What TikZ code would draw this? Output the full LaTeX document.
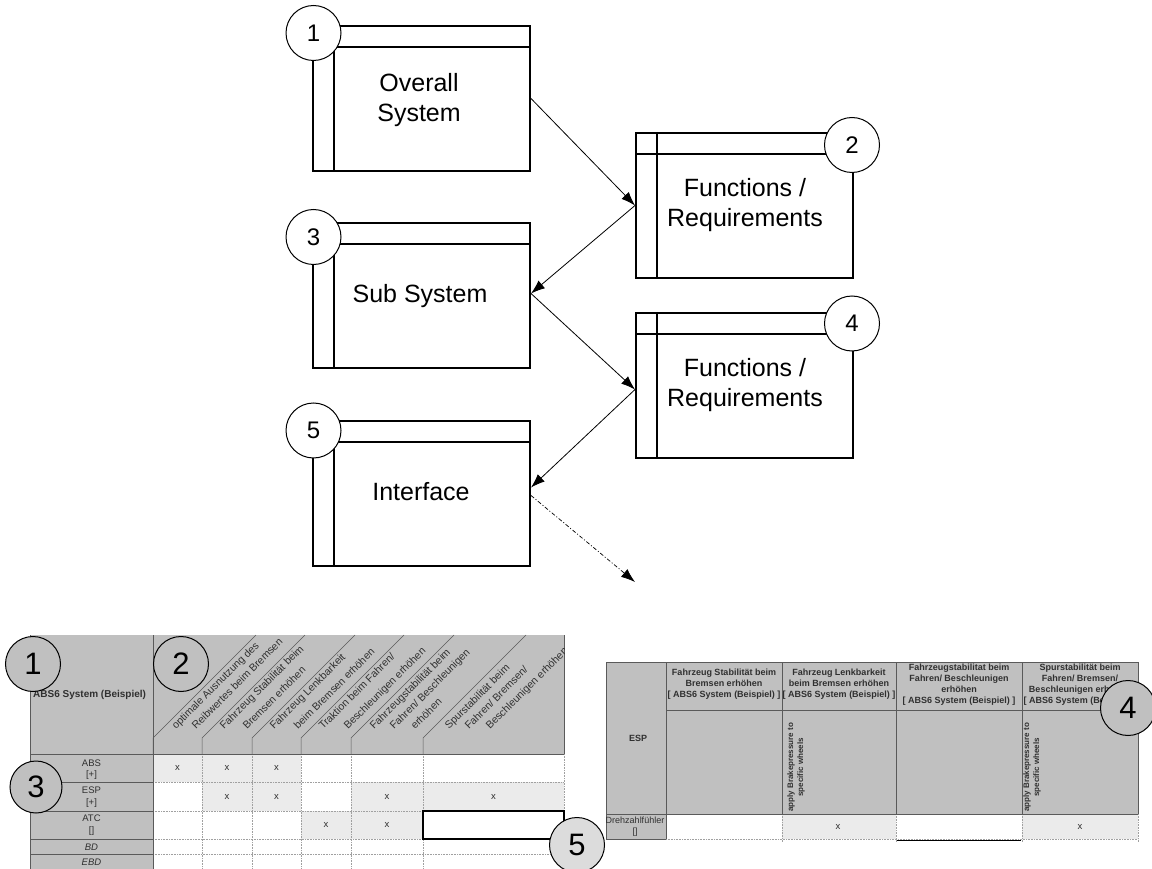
\documentclass[tikz,border=0pt]{standalone}
\usepackage{fontspec}
\setmainfont{Liberation Sans}
\usetikzlibrary{arrows.meta,calc}
\definecolor{hdr}{HTML}{C0C0C0}
\definecolor{lite}{HTML}{EBEBEB}
\definecolor{gridc}{HTML}{A0A0A0}
\definecolor{dark}{HTML}{5A5A5A}
\definecolor{txt}{HTML}{303030}
\definecolor{cfill}{HTML}{DCDCDC}
\begin{document}
\begin{tikzpicture}[x=1pt,y=-1pt,
  sysbox/.style={draw, line width=2pt, minimum width=217pt, minimum height=145pt, inner sep=0pt},
  num/.style={circle, draw, line width=1pt, fill=white, minimum size=55pt, inner sep=0pt, font=\fontsize{24}{24}\selectfont},
  bignum/.style={circle, draw, line width=1pt, fill=hdr, minimum size=55pt, inner sep=0pt, font=\fontsize{31}{31}\selectfont},
  big/.style={font=\fontsize{25}{30}\selectfont, align=center, inner sep=0pt},
  conn/.style={line width=0.8pt, -{Latex[length=14pt,width=10pt]}},
  hl/.style={font=\fontsize{10.5}{13}\selectfont, text=txt, inner sep=0pt, rotate=45, anchor=base west},
  cell/.style={font=\fontsize{9.5}{11}\selectfont, text=txt, inner sep=0pt},
  rh/.style={font=\bfseries\fontsize{9}{11}\selectfont, text=txt, align=center, inner sep=0pt},
  rv/.style={font=\bfseries\fontsize{8}{10}\selectfont, text=txt, align=center, inner sep=0pt, rotate=90, anchor=west},
  grid/.style={gridc, densely dotted, line width=0.6pt},
  dline/.style={dark, line width=0.8pt}
]
\useasboundingbox (0,0) rectangle (1152,869);

% ---------------- top diagram ----------------
\node[sysbox] (b1) at (421.5,98.5) {};
\node[sysbox] (b3) at (421.5,295.5) {};
\node[sysbox] (b5) at (421.5,493.5) {};
\node[sysbox] (b2) at (744.5,205.5) {};
\node[sysbox] (b4) at (744.5,385.5) {};
\foreach \b in {b1,b2,b3,b4,b5}{
  \draw[line width=2pt] ($(\b.north west)+(0,22)$) -- ($(\b.north east)+(0,22)$);
  \draw[line width=2pt] ($(\b.north west)+(22,0)$) -- ($(\b.south west)+(22,0)$);
}
\node[big] (t1) at (419,100) {Overall\\System};
\node[big] (t2) at (745,205) {Functions /\\Requirements};
\node[big, anchor=base] (t3) at (420,302) {Sub System};
\node[big] (t4) at (745,385) {Functions /\\Requirements};
\node[big, anchor=base] (t5) at (421,500) {Interface};

\node[num] (c1) at (313.5,33) {1};
\node[num] (c3) at (313.5,237) {3};
\node[num] (c5) at (313.5,430.5) {5};
\node[num] (c2) at (852,145) {2};
\node[num] (c4) at (852,323.5) {4};

\coordinate (dd) at (635,582);
\draw[conn] (b1.east) -- (b2.west);
\draw[conn] (b2.west) -- ($(b3.east)+(0,-2)$);
\draw[conn] ($(b3.east)+(0,-2)$) -- ($(b4.west)+(0,4)$);
\draw[conn] ($(b4.west)+(0,4)$) -- ($(b5.east)+(0,-6)$);
\draw[line width=0.7pt, dash pattern=on 4pt off 2pt on 1pt off 2pt, -{Latex[length=14pt,width=10pt]}] ($(b5.east)+(0,2)$) -- (dd);

% ---------------- bottom-left table ----------------
\fill[hdr] (30,635) rectangle (564,754);
\fill[hdr] (30,754) rectangle (153,869);
\fill[lite] (153,754) rectangle (301,782);
\fill[lite] (202,782) rectangle (301,811);
\fill[lite] (351,782) rectangle (564,811);
\fill[lite] (301,811) rectangle (423,839);
\foreach \x in {202,252,301,351,423,564} \draw[grid] (\x,754) -- (\x,869);
\foreach \y in {782,811,839,854} \draw[grid] (153,\y) -- (564,\y);
\foreach \y in {782,811,839,854} \draw[dline] (30,\y) -- (153,\y);
\draw[dline] (153,635) -- (153,869);
\draw[dark, line width=0.5pt] (30,635) -- (30,869);
\draw[dark, line width=1pt] (30,754) -- (564,754);
\draw[dark, line width=1pt] (564,635) -- (564,754);
\foreach \b in {153,202,252,301,351,423} \draw[dark, line width=0.5pt] (\b,754) -- (\b,738) -- (\b+103,635);
\draw[black, line width=1.2pt] (423,811) rectangle (564,839);

\begin{scope}
\clip (30,635) rectangle (564,754);
\node[hl] (h1a) at (176,730) {optimale Ausnutzung des};
\node[hl] (h1b) at (196,730) {Reibwertes beim Bremsen};
\node[hl] (h2a) at (224,730) {Fahrzeug Stabilität beim};
\node[hl] (h2b) at (247,730) {Bremsen erhöhen};
\node[hl] (h3a) at (274,730) {Fahrzeug Lenkbarkeit};
\node[hl] (h3b) at (298,730) {beim Bremsen erhöhen};
\node[hl] (h4a) at (323,730) {Traktion beim Fahren/};
\node[hl] (h4b) at (348,730) {Beschleunigen erhöhen};
\node[hl] (h5a) at (374,730) {Fahrzeugstabilität beim};
\node[hl] (h5b) at (394,730) {Fahren/ Beschleunigen};
\node[hl] (h5c) at (415,730) {erhöhen};
\node[hl] (h6a) at (449,730) {Spurstabilität beim};
\node[hl] (h6b) at (469,730) {Fahren/ Bremsen/};
\node[hl] (h6c) at (490,730) {Beschleunigen erhöhen};
\end{scope}

\node[font=\bfseries\fontsize{10}{12}\selectfont, text=txt, anchor=west, inner sep=0pt] (lt) at (33,695) {ABS6 System (Beispiel)};
\node[cell] (r1a) at (91.5,763) {ABS};
\node[cell] (r1b) at (91.5,775) {[+]};
\node[cell] (r2a) at (91.5,790) {ESP};
\node[cell] (r2b) at (91.5,803) {[+]};
\node[cell] (r3a) at (91.5,818) {ATC};
\node[cell] (r3b) at (91.5,831) {[]};
\node[cell, font=\itshape\fontsize{9.5}{11}\selectfont] (r4) at (91.5,847) {BD};
\node[cell, font=\itshape\fontsize{9.5}{11}\selectfont] (r5) at (91.5,862) {EBD};
\foreach \x/\y [count=\i] in {177.5/768, 227/768, 276.5/768, 227/796.5, 276.5/796.5, 387/796.5, 493.5/796.5, 326/825, 387/825}
  \node[cell] (x\i) at (\x,\y) {x};

\node[bignum] (l1) at (33,664) {1};
\node[bignum] (l2) at (181,664) {2};
\node[bignum, minimum size=52pt] (l3) at (36,787) {3};

% ---------------- bottom-right table ----------------
\fill[hdr] (606,662) rectangle (1138,814);
\fill[hdr] (606,814) rectangle (666,839);
\fill[lite] (782,814) rectangle (896,839);
\fill[lite] (1022,814) rectangle (1138,839);
\foreach \x in {666,782,896,1022,1138} \draw[dark, line width=0.6pt] (\x,662) -- (\x,814);
\foreach \x in {782,896,1022,1138} \draw[grid] (\x,814) -- (\x,842);
\draw[grid] (666,839) -- (1138,839);
\draw[dark, line width=1pt] (606,662) -- (1138,662);
\draw[dark, line width=1pt] (606,662) -- (606,839);
\draw[dark, line width=0.8pt] (666,710) -- (1138,710);
\draw[dark, line width=1pt] (606,814) -- (1138,814);
\draw[dark, line width=1pt] (606,839) -- (666,839);
\draw[dark, line width=1pt] (666,814) -- (666,839);
\draw[black, line width=1.2pt] (897,840.5) -- (1021,840.5);

\node[rh] (esp) at (638,738) {ESP};
\node[rh] (q1) at (724,684) {Fahrzeug Stabilität beim\\Bremsen erhöhen\\{[} ABS6 System (Beispiel) {]}};
\node[rh] (q2) at (839,684) {Fahrzeug Lenkbarkeit\\beim Bremsen erhöhen\\{[} ABS6 System (Beispiel) {]}};
\node[rh] (q3) at (959,685) {Fahrzeugstabilitat beim\\Fahren/ Beschleunigen\\erhöhen\\{[} ABS6 System (Beispiel) {]}};
\node[rh] (q4) at (1080,685) {Spurstabilität beim\\Fahren/ Bremsen/\\Beschleunigen erhöhen\\{[} ABS6 System (Beispiel) {]}};
\node[rv] (v1) at (796,812) {apply Brakepressure to\\specific wheels};
\node[rv] (v2) at (1032,812) {apply Brakepressure to\\specific wheels};
\node[cell, font=\fontsize{9}{10}\selectfont] (dz) at (635,820) {Drehzahlfühler};
\node[cell, font=\fontsize{9}{10}\selectfont] (dzb) at (635,832) {[]};
\node[cell] (y1) at (838,827) {x};
\node[cell] (y2) at (1080,827) {x};

\node[bignum] (rc4) at (1128,708) {4};
\node[bignum, fill=cfill] (rc5) at (577,845) {5};
\end{tikzpicture}
\end{document}
